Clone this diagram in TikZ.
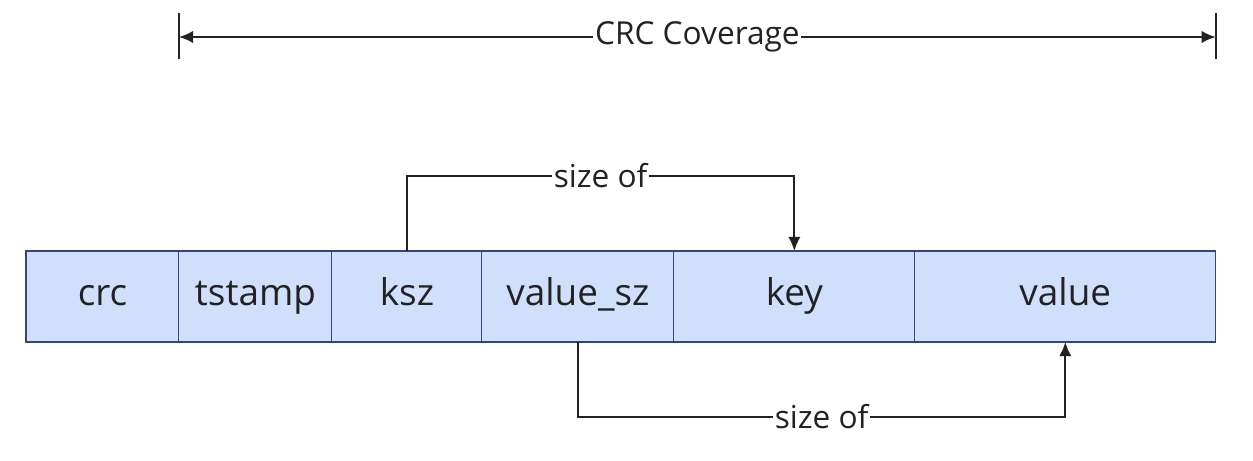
\documentclass[tikz,border=0pt]{standalone}
\usepackage{fontspec}
\setmainfont{Open Sans}
\usetikzlibrary{positioning,arrows.meta}
\definecolor{cellfill}{HTML}{D0E0FC}
\definecolor{cellline}{HTML}{34457A}
\definecolor{ink}{HTML}{222222}

\begin{document}
\begin{tikzpicture}[x=0.02cm, y=-0.02cm, line width=1.1pt, draw=ink, text=ink,
    field/.style = {draw=cellline, fill=cellfill, line width=0.6pt, minimum height=1.82cm, inner sep=0pt, outer sep=0pt, text height=14pt, text depth=4pt, font=\fontsize{21}{25}\selectfont},
    tag/.style = {fill=white, inner sep=1pt, font=\fontsize{18}{22}\selectfont},
    tip/.style = {-{Latex[length=8pt,width=7pt]}}]
        \useasboundingbox (0,0) rectangle (1253,460);
        \node [field, minimum width=3.06cm, anchor=north west] (crc) at (26,251) {crc};
        \node [field, minimum width=3.06cm, right=0pt of crc] (tstamp) {tstamp};
        \node [field, minimum width=3.00cm, right=0pt of tstamp] (ksz) {ksz};
        \node [field, minimum width=3.84cm, right=0pt of ksz] (valsz) {value\_sz};
        \node [field, minimum width=4.82cm, right=0pt of valsz] (key) {key};
        \node [field, minimum width=6.02cm, right=0pt of key] (value) {value};
        % CRC coverage span
        \coordinate (covl) at (tstamp.west |- 0,37);
        \coordinate (covr) at (value.east |- 0,37);
        \draw ([yshift=-0.44cm]covl) -- ([yshift=0.48cm]covl);
        \draw ([yshift=-0.44cm]covr) -- ([yshift=0.48cm]covr);
        \draw[{Latex[length=8pt,width=7pt]}-{Latex[length=8pt,width=7pt]}] (covl) -- node[tag] {CRC Coverage} (covr);
        % size of
        \draw[tip] (ksz.north) -- ++(0,-75) -| node[tag, pos=0.25] {size of} (key.north);
        \draw[tip] (valsz.south) -- ++(0,75) -| node[tag, pos=0.25] {size of} (value.south);
\end{tikzpicture}
\end{document}
